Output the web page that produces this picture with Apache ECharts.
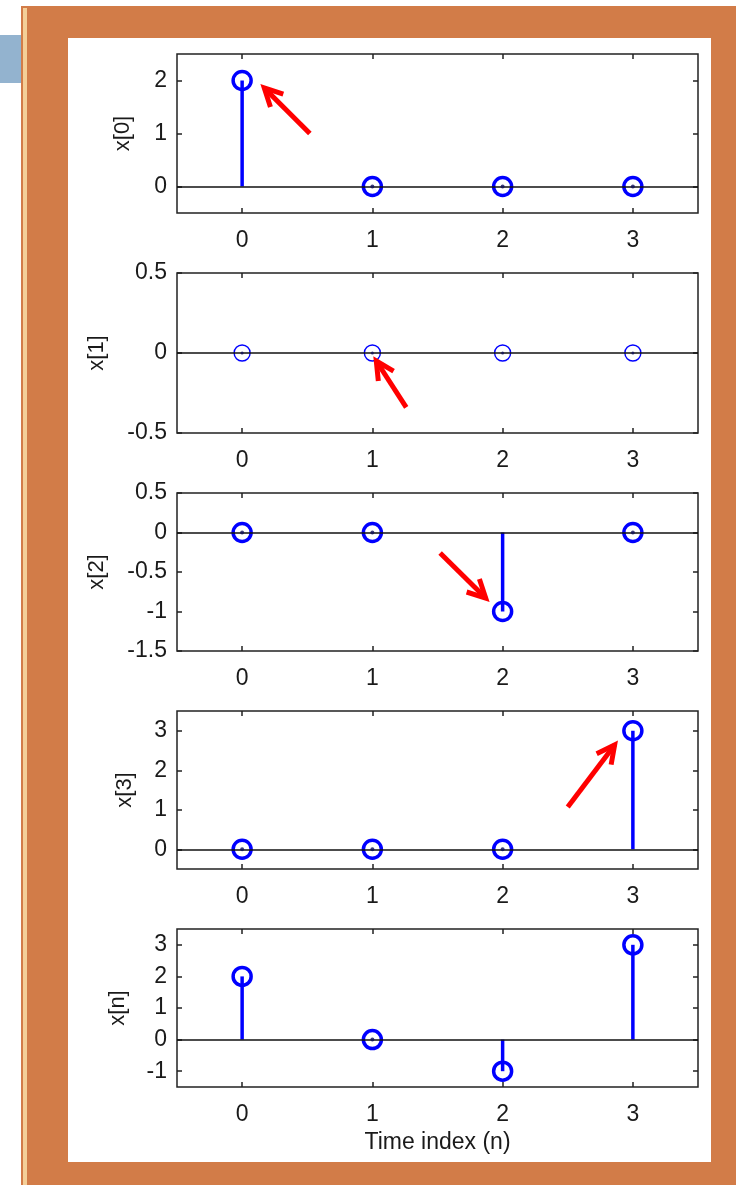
<!DOCTYPE html>
<html>
<head>
<meta charset="utf-8">
<title>x[n] stem plots</title>
<script src="https://cdn.jsdelivr.net/npm/echarts@6.0.0/dist/echarts.min.js"></script>
<style>
    body { margin: 0; background: #fff; }
    #tab { position: absolute; left: 0; top: 35px; width: 22px; height: 48px; background: #93b3cf; }
    #frame { position: absolute; left: 21px; top: 6px; width: 715px; height: 1179px; background: #d27c48; }
    #edge { position: absolute; left: 23px; top: 8px; width: 4px; height: 1177px; background: #f4cf98; }
    #paper { position: absolute; left: 68px; top: 38px; width: 643px; height: 1124px; background: #fff; }
    #main { position: absolute; left: 0; top: 0; width: 736px; height: 1185px; }
</style>
</head>
<body>
<div id="tab"></div>
<div id="frame"></div>
<div id="edge"></div>
<div id="paper"></div>
<div id="main"></div>
<script type="text/javascript">
    // time index
    var n = [0, 1, 2, 3];
    // signals, one per subplot
    var x0 = [2, 0, 0, 0];
    var x1 = [0, 0, 0, 0];
    var x2 = [0, 0, -1, 0];
    var x3 = [0, 0, 0, 3];
    var xn = [2, 0, -1, 3];
    var signals = [x0, x1, x2, x3, xn];
    var yNames = ['x[0]', 'x[1]', 'x[2]', 'x[3]', 'x[n]'];
    // y limits and tick values
    var yMin = [-0.5, -0.5, -1.5, -0.5, -1.5];
    var yMax = [2.5, 0.5, 0.5, 3.5, 3.5];
    var yTicks = [[0, 1, 2], [-0.5, 0, 0.5], [-1.5, -1, -0.5, 0, 0.5], [0, 1, 2, 3], [-1, 0, 1, 2, 3]];
    var xTicks = [0, 1, 2, 3];
    // red arrows: [subplot, tailX, tailY, tipX, tipY] in data units
    var arrows = [
        [0, 0.52, 1.0, 0.17, 1.86],
        [1, 1.26, -0.34, 1.03, -0.05],
        [2, 1.52, -0.26, 1.87, -0.83],
        [3, 2.50, 1.07, 2.86, 2.64]
    ];

    var gridTop = [54, 273, 493, 711, 929];
    var gridH = [159, 160, 158, 158, 158];
    var nameGaps = [43, 69, 69, 41, 48];
    var font = 'Liberation Sans, Arial, sans-serif';
    var txt = '#1a1a1a';

    var chart = echarts.init(document.getElementById('main'));

    var grids = [], xAxes = [], yAxes = [], series = [];
    for (var i = 0; i < 5; i++) {
        grids.push({
            left: 177, width: 521, top: gridTop[i], height: gridH[i],
            show: true, borderColor: '#222', borderWidth: 1.5, backgroundColor: 'transparent'
        });
    }
    // bottom x axes and left y axes (labels)
    for (var i = 0; i < 5; i++) {
        xAxes.push({
            gridIndex: i, type: 'value', min: -0.5, max: 3.5,
            axisLine: { show: false, onZero: false },
            axisTick: { show: true, inside: true, length: 5, customValues: xTicks, lineStyle: { color: '#222', width: 1.5 } },
            axisLabel: { customValues: xTicks, fontSize: 23, color: txt, margin: 16, fontFamily: font },
            splitLine: { show: false },
            name: i == 4 ? 'Time index (n)' : '',
            nameLocation: 'middle', nameGap: 44, nameMoveOverlap: false,
            nameTextStyle: { fontSize: 23, color: txt, fontFamily: font }
        });
        yAxes.push({
            gridIndex: i, type: 'value', min: yMin[i], max: yMax[i],
            axisLine: { show: false, onZero: false },
            axisTick: { show: true, inside: true, length: 5, customValues: yTicks[i], lineStyle: { color: '#222', width: 1.5 } },
            axisLabel: { customValues: yTicks[i], fontSize: 23, color: txt, margin: 10, fontFamily: font },
            splitLine: { show: false },
            name: yNames[i], nameLocation: 'middle', nameRotate: 90, nameGap: nameGaps[i], nameMoveOverlap: false,
            nameTextStyle: { fontSize: 22, color: txt, fontFamily: font }
        });
    }
    // top and right axes: ticks only (box on)
    for (var i = 0; i < 5; i++) {
        xAxes.push({
            gridIndex: i, type: 'value', position: 'top', min: -0.5, max: 3.5,
            axisLine: { show: false, onZero: false },
            axisTick: { show: true, inside: true, length: 5, customValues: xTicks, lineStyle: { color: '#222', width: 1.5 } },
            axisLabel: { show: false }, splitLine: { show: false }
        });
        yAxes.push({
            gridIndex: i, type: 'value', position: 'right', min: yMin[i], max: yMax[i],
            axisLine: { show: false, onZero: false },
            axisTick: { show: true, inside: true, length: 5, customValues: yTicks[i], lineStyle: { color: '#222', width: 1.5 } },
            axisLabel: { show: false }, splitLine: { show: false }
        });
    }

    for (var i = 0; i < 5; i++) {
        var vals = signals[i];
        var pts = n.map(function (t, k) { return [t, vals[k]]; });
        var zeros = pts.filter(function (p) { return p[1] === 0; });
        var thin = (i == 1);
        // stems
        series.push({
            type: 'bar', xAxisIndex: i, yAxisIndex: i, data: pts, barWidth: 3.5,
            itemStyle: { color: '#0000ff' }, z: 2, silent: true
        });
        // markers + baseline
        series.push({
            type: 'scatter', xAxisIndex: i, yAxisIndex: i, data: pts,
            symbol: 'circle', symbolSize: thin ? 16 : 18,
            itemStyle: { color: 'rgba(0,0,0,0)', borderColor: '#0000ff', borderWidth: thin ? 1.4 : 3.5, opacity: 1 },
            z: 4, silent: true,
            markLine: {
                silent: true, symbol: ['none', 'none'], label: { show: false },
                lineStyle: { color: '#111', width: 1.5, type: 'solid' },
                data: [{ yAxis: 0 }]
            }
        });
        // small centre dot where the stem has zero length
        series.push({
            type: 'scatter', xAxisIndex: i, yAxisIndex: i, data: zeros,
            symbol: 'circle', symbolSize: thin ? 3 : 4,
            itemStyle: { color: '#10105a' }, z: 5, silent: true
        });
    }

    chart.setOption({
        animation: false,
        grid: grids,
        xAxis: xAxes,
        yAxis: yAxes,
        series: series
    });

    // arrows drawn from data coordinates
    var elems = [];
    arrows.forEach(function (a) {
        var tail = chart.convertToPixel({ gridIndex: a[0] }, [a[1], a[2]]);
        var tip = chart.convertToPixel({ gridIndex: a[0] }, [a[3], a[4]]);
        var ang = Math.atan2(tail[1] - tip[1], tail[0] - tip[0]);
        var L = 20, spread = 27 * Math.PI / 180;
        var p1 = [tip[0] + L * Math.cos(ang + spread), tip[1] + L * Math.sin(ang + spread)];
        var p2 = [tip[0] + L * Math.cos(ang - spread), tip[1] + L * Math.sin(ang - spread)];
        elems.push({
            type: 'polyline', silent: true, z: 10,
            shape: { points: [tail, tip] },
            style: { stroke: '#ff0000', lineWidth: 5, fill: null }
        });
        elems.push({
            type: 'polyline', silent: true, z: 10,
            shape: { points: [p1, tip, p2] },
            style: { stroke: '#ff0000', lineWidth: 5, fill: null, lineJoin: 'miter' }
        });
    });
    chart.setOption({ graphic: elems });
</script>
</body>
</html>
